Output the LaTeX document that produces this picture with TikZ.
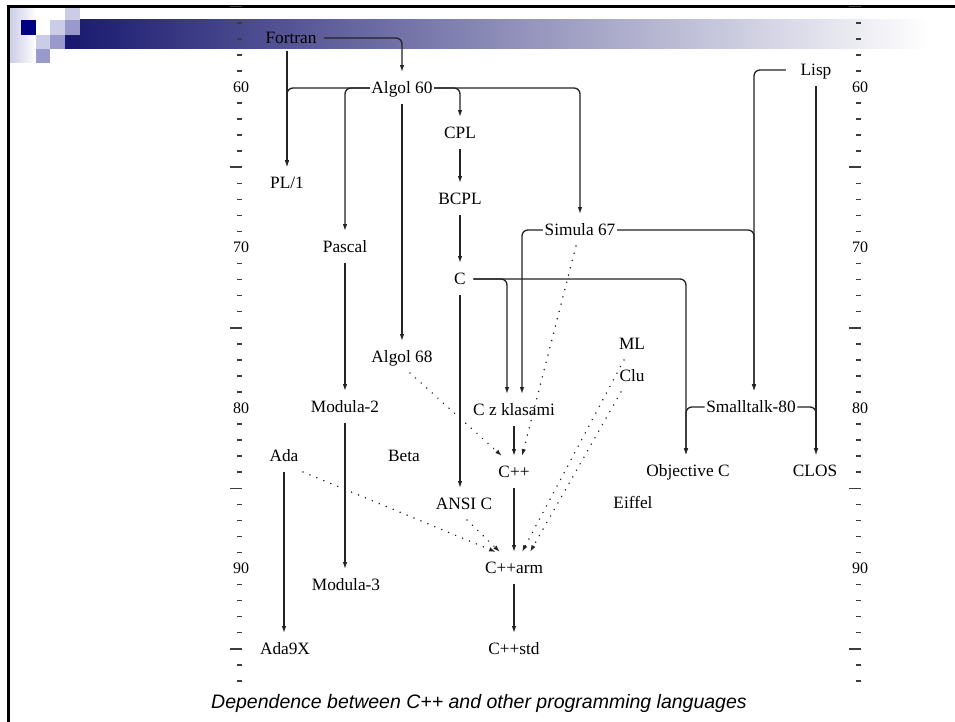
\documentclass[tikz,border=0pt]{standalone}
\usepackage{fontspec}
\setmainfont{Liberation Serif}
\newfontfamily\capfont{Liberation Sans}
\usetikzlibrary{arrows.meta}
\definecolor{navybar}{RGB}{25,25,112}
\definecolor{sqnavy}{RGB}{0,0,128}
\definecolor{sqlight}{RGB}{204,204,230}
\definecolor{sqmid}{RGB}{153,153,204}
\definecolor{linecol}{RGB}{35,35,35}
\definecolor{tickcol}{RGB}{60,60,60}
\tikzset{
  lang/.style={font=\fontsize{17.3}{20}\selectfont, text height=11.5pt, text depth=0pt, inner xsep=1.5pt, inner ysep=10pt},
  arr/.style={draw=linecol, line width=1.3pt, -{Latex[length=7pt,width=4.5pt]}},
  ortho/.style={arr, rounded corners=6pt},
  dotarr/.style={arr, line width=1.7pt, line cap=round, dash pattern=on 0.01pt off 7.5pt},
  tickmark/.style={draw=tickcol, line width=1.5pt},
  rulerlabel/.style={font=\fontsize{16}{18}\selectfont, inner sep=0pt},
  sq/.style={draw=none}
}
\begin{document}
\begin{tikzpicture}[x=1pt,y=-1pt]
\useasboundingbox (0,0) rectangle (955,722);
\fill[white] (0,0) rectangle (955,722);
% slide decoration
\shade[left color=navybar, right color=white] (65,20) rectangle (930,49);
\shade[left color=sqlight, right color=white] (10,8) rectangle (36,63);
\fill[sqnavy] (21,20) rectangle (36,35);
\fill[sqlight] (65,8) rectangle (80,20);
\fill[sqlight] (50,20) rectangle (65,35);
\fill[sqmid] (65,20) rectangle (80,35);
\fill[sqlight] (36,35) rectangle (50,49);
\fill[sqmid] (50,35) rectangle (65,49);
\fill[navybar] (65,35) rectangle (80,49);
\fill[sqmid] (36,49) rectangle (50,63);
\draw[line width=2.5pt] (8.5,722) -- (8.5,6.5) -- (955,6.5);
% rulers
\foreach \yr in {55,...,97}{
  \pgfmathsetmacro{\yy}{87+(\yr-60)*16.05}
  \pgfmathtruncatemacro{\mten}{mod(\yr,10)}
  \pgfmathtruncatemacro{\mfive}{mod(\yr,5)}
  \ifnum\mten=0
    \node[rulerlabel] (l\yr) at (241,\yy) {\yr};
    \node[rulerlabel] (r\yr) at (860,\yy) {\yr};
  \else\ifnum\mfive=0
    \draw[tickmark] (230,\yy) -- (242,\yy);
    \draw[tickmark] (849,\yy) -- (861,\yy);
  \else
    \draw[tickmark] (237,\yy) -- (242,\yy);
    \draw[tickmark] (856,\yy) -- (861,\yy);
  \fi\fi
}
% languages
\node[lang] (fortran) at (291,38) {Fortran};
\node[lang] (algol60) at (402,88) {Algol 60};
\node[lang] (lisp) at (816,70) {Lisp};
\node[lang] (pl1) at (287,183) {PL/1};
\node[lang] (cpl) at (460,133) {CPL};
\node[lang] (bcpl) at (460,199) {BCPL};
\node[lang] (simula) at (580,230) {Simula 67};
\node[lang] (pascal) at (345,247) {Pascal};
\node[lang] (c) at (460,279) {C};
\node[lang] (algol68) at (402,357) {Algol 68};
\node[lang] (ml) at (632,344) {ML};
\node[lang] (clu) at (632,376) {Clu};
\node[lang] (modula2) at (345,407) {Modula-2};
\node[lang] (czk) at (514,410) {C z klasami};
\node[lang] (smalltalk) at (751,407) {Smalltalk-80};
\node[lang] (ada) at (284,456) {Ada};
\node[lang] (beta) at (404,456) {Beta};
\node[lang] (cpp) at (514,472) {C++};
\node[lang] (objc) at (688,471) {Objective C};
\node[lang] (clos) at (815,471) {CLOS};
\node[lang] (ansic) at (464,504) {ANSI C};
\node[lang] (eiffel) at (633,503) {Eiffel};
\node[lang] (cpparm) at (514,568) {C++arm};
\node[lang] (modula3) at (346,585) {Modula-3};
\node[lang] (ada9x) at (285,649) {Ada9X};
\node[lang] (cppstd) at (514,649) {C++std};
% solid connectors
\draw[ortho] ([xshift=6pt]fortran.east) -| (algol60.north);
\draw[arr] ([yshift=3pt]fortran.south -| pl1.north) -- (pl1.north);
\draw[ortho] (algol60.west) -| (pl1.north);
\draw[ortho] (algol60.west) -| (pascal.north);
\draw[arr] (algol60.south) -- (algol68.north);
\draw[ortho] (algol60.east) -| (cpl.north);
\draw[ortho] (algol60.east) -| (simula.north);
\draw[arr] (cpl.south) -- (bcpl.north);
\draw[arr] (bcpl.south) -- (c.north);
\draw[arr] (c.south) -- (c.south |- ansic.north);
\draw[ortho] ([xshift=6pt]c.east) -| ([xshift=-7pt]czk.north);
\draw[ortho] ([xshift=6pt]c.east) -| ([xshift=-2pt]objc.north);
\draw[ortho] (simula.west) -| ([xshift=8pt]czk.north);
\draw[ortho] (simula.east) -| ([xshift=3pt]smalltalk.north);
\draw[ortho] ([xshift=-13pt]lisp.west) -| ([xshift=3pt]smalltalk.north);
\draw[arr] (lisp.south) -- (lisp.south |- clos.north);
\draw[ortho] (smalltalk.west) -| ([xshift=-2pt]objc.north);
\draw[ortho] (smalltalk.east) -| (lisp.south |- clos.north);
\draw[arr] (pascal.south) -- (modula2.north);
\draw[arr] (modula2.south) -- (modula2.south |- modula3.north);
\draw[arr] (ada.south) -- (ada.south |- ada9x.north);
\draw[arr] (czk.south) -- (cpp.north);
\draw[arr] (cpp.south) -- (cpparm.north);
\draw[arr] (cpparm.south) -- (cppstd.north);
% dotted connectors
\draw[dotarr] ([xshift=-4pt]simula.south) -- ([xshift=8pt]cpp.north);
\draw[dotarr] ([xshift=8pt]algol68.south) -- ([xshift=-12pt]cpp.north);
\draw[dotarr] ([xshift=-8pt]ml.south) -- ([xshift=8pt]cpparm.north);
\draw[dotarr] ([xshift=-11pt]clu.south) -- ([xshift=16pt]cpparm.north);
\draw[dotarr] ([xshift=19pt]ada.south) -- ([xshift=-18pt]cpparm.north);
\draw[dotarr] ([xshift=3pt]ansic.south) -- ([xshift=-14pt]cpparm.north);
% caption
\node[font=\capfont\itshape\fontsize{19.5}{22}\selectfont, inner sep=0pt] (caption) at (479,703) {Dependence between C++ and other programming languages};
\end{tikzpicture}
\end{document}
